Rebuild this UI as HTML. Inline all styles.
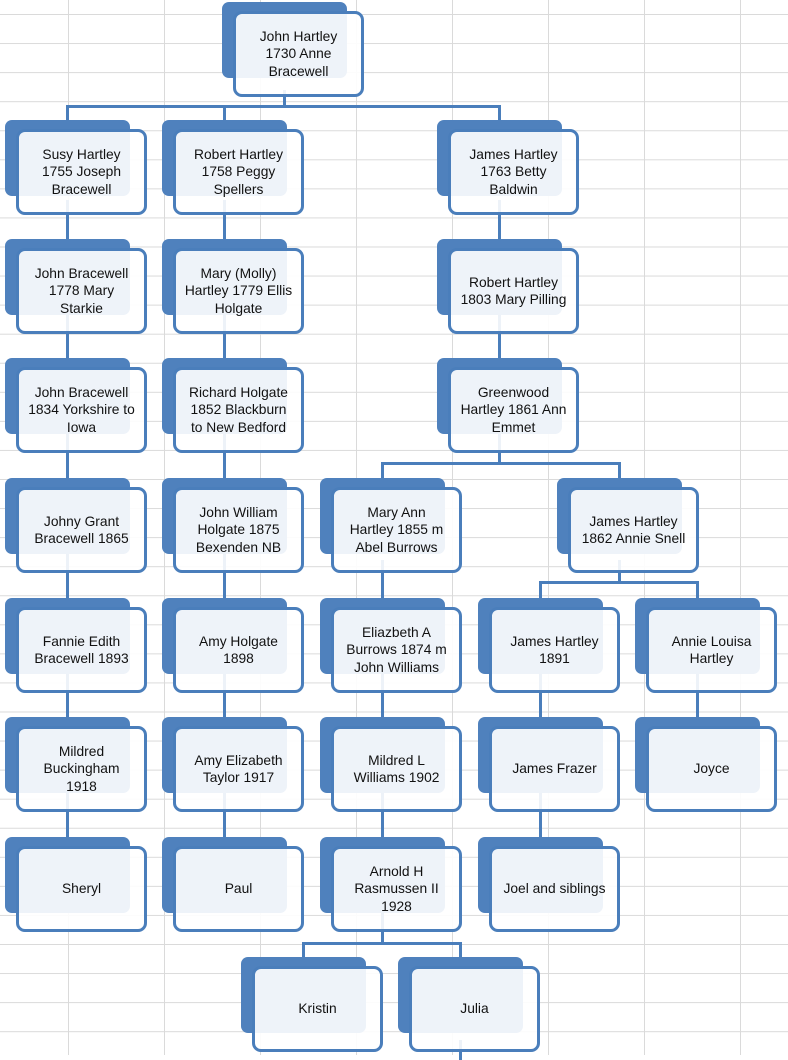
<!DOCTYPE html>
<html><head><meta charset="utf-8"><style>
body{margin:0;width:788px;height:1055px;position:relative;overflow:hidden;background:#fff;font-family:"Liberation Sans",sans-serif;}
.g{position:absolute;inset:0;background-image:linear-gradient(to right,#dadada 1px,transparent 1px),linear-gradient(to bottom,#dadada 1px,transparent 1px);background-size:96px 29.07px;background-position:68px 14px;}
.n{position:absolute;width:145px;height:95px;}
.b{position:absolute;left:0;top:0;width:125px;height:76px;background:#4f81bd;border-radius:7px;}
.f{position:absolute;left:11px;top:9px;width:125px;height:80px;border:3px solid #4a7ebb;border-radius:9px;background:rgba(255,255,255,0.9);}
.t{position:absolute;left:14px;top:20px;width:125px;height:64px;display:flex;align-items:center;justify-content:center;text-align:center;font-size:13.8px;line-height:17.5px;color:#111;}
.l{position:absolute;background:#4a7ebb;}
</style></head><body>
<div class="g"></div>
<div class="l" style="left:283px;top:90px;width:3px;height:18px"></div>
<div class="l" style="left:66px;top:105px;width:435px;height:3px"></div>
<div class="l" style="left:66px;top:105px;width:3px;height:16px"></div>
<div class="l" style="left:223px;top:105px;width:3px;height:16px"></div>
<div class="l" style="left:498px;top:105px;width:3px;height:16px"></div>
<div class="l" style="left:66px;top:200px;width:3px;height:640px"></div>
<div class="l" style="left:223px;top:200px;width:3px;height:640px"></div>
<div class="l" style="left:498px;top:200px;width:3px;height:265px"></div>
<div class="l" style="left:381px;top:462px;width:240px;height:3px"></div>
<div class="l" style="left:381px;top:462px;width:3px;height:20px"></div>
<div class="l" style="left:618px;top:462px;width:3px;height:20px"></div>
<div class="l" style="left:381px;top:560px;width:3px;height:385px"></div>
<div class="l" style="left:618px;top:560px;width:3px;height:24px"></div>
<div class="l" style="left:539px;top:581px;width:160px;height:3px"></div>
<div class="l" style="left:539px;top:581px;width:3px;height:240px"></div>
<div class="l" style="left:539px;top:680px;width:3px;height:160px"></div>
<div class="l" style="left:696px;top:581px;width:3px;height:140px"></div>
<div class="l" style="left:302px;top:942px;width:160px;height:3px"></div>
<div class="l" style="left:302px;top:942px;width:3px;height:18px"></div>
<div class="l" style="left:459px;top:942px;width:3px;height:18px"></div>
<div class="l" style="left:459px;top:1040px;width:3px;height:20px"></div>

<div class="n" style="left:222px;top:2px"><div class="b"></div><div class="f"></div><div class="t">John Hartley<br>1730 Anne<br>Bracewell</div></div>

<div class="n" style="left:5px;top:120px"><div class="b"></div><div class="f"></div><div class="t">Susy Hartley<br>1755 Joseph<br>Bracewell</div></div>
<div class="n" style="left:162px;top:120px"><div class="b"></div><div class="f"></div><div class="t">Robert Hartley<br>1758 Peggy<br>Spellers</div></div>
<div class="n" style="left:437px;top:120px"><div class="b"></div><div class="f"></div><div class="t">James Hartley<br>1763 Betty<br>Baldwin</div></div>

<div class="n" style="left:5px;top:239px"><div class="b"></div><div class="f"></div><div class="t">John Bracewell<br>1778 Mary<br>Starkie</div></div>
<div class="n" style="left:162px;top:239px"><div class="b"></div><div class="f"></div><div class="t">Mary (Molly)<br>Hartley 1779 Ellis<br>Holgate</div></div>
<div class="n" style="left:437px;top:239px"><div class="b"></div><div class="f"></div><div class="t">Robert Hartley<br>1803 Mary Pilling</div></div>

<div class="n" style="left:5px;top:358px"><div class="b"></div><div class="f"></div><div class="t">John Bracewell<br>1834 Yorkshire to<br>Iowa</div></div>
<div class="n" style="left:162px;top:358px"><div class="b"></div><div class="f"></div><div class="t">Richard Holgate<br>1852 Blackburn<br>to New Bedford</div></div>
<div class="n" style="left:437px;top:358px"><div class="b"></div><div class="f"></div><div class="t">Greenwood<br>Hartley 1861 Ann<br>Emmet</div></div>

<div class="n" style="left:5px;top:478px"><div class="b"></div><div class="f"></div><div class="t">Johny Grant<br>Bracewell 1865</div></div>
<div class="n" style="left:162px;top:478px"><div class="b"></div><div class="f"></div><div class="t">John William<br>Holgate 1875<br>Bexenden NB</div></div>
<div class="n" style="left:320px;top:478px"><div class="b"></div><div class="f"></div><div class="t">Mary Ann<br>Hartley 1855 m<br>Abel Burrows</div></div>
<div class="n" style="left:557px;top:478px"><div class="b"></div><div class="f"></div><div class="t">James Hartley<br>1862 Annie Snell</div></div>

<div class="n" style="left:5px;top:598px"><div class="b"></div><div class="f"></div><div class="t">Fannie Edith<br>Bracewell 1893</div></div>
<div class="n" style="left:162px;top:598px"><div class="b"></div><div class="f"></div><div class="t">Amy Holgate<br>1898</div></div>
<div class="n" style="left:320px;top:598px"><div class="b"></div><div class="f"></div><div class="t">Eliazbeth A<br>Burrows 1874 m<br>John Williams</div></div>
<div class="n" style="left:478px;top:598px"><div class="b"></div><div class="f"></div><div class="t">James Hartley<br>1891</div></div>
<div class="n" style="left:635px;top:598px"><div class="b"></div><div class="f"></div><div class="t">Annie Louisa<br>Hartley</div></div>

<div class="n" style="left:5px;top:717px"><div class="b"></div><div class="f"></div><div class="t">Mildred<br>Buckingham<br>1918</div></div>
<div class="n" style="left:162px;top:717px"><div class="b"></div><div class="f"></div><div class="t">Amy Elizabeth<br>Taylor 1917</div></div>
<div class="n" style="left:320px;top:717px"><div class="b"></div><div class="f"></div><div class="t">Mildred L<br>Williams 1902</div></div>
<div class="n" style="left:478px;top:717px"><div class="b"></div><div class="f"></div><div class="t">James Frazer</div></div>
<div class="n" style="left:635px;top:717px"><div class="b"></div><div class="f"></div><div class="t">Joyce</div></div>

<div class="n" style="left:5px;top:837px"><div class="b"></div><div class="f"></div><div class="t">Sheryl</div></div>
<div class="n" style="left:162px;top:837px"><div class="b"></div><div class="f"></div><div class="t">Paul</div></div>
<div class="n" style="left:320px;top:837px"><div class="b"></div><div class="f"></div><div class="t">Arnold H<br>Rasmussen II<br>1928</div></div>
<div class="n" style="left:478px;top:837px"><div class="b"></div><div class="f"></div><div class="t">Joel and siblings</div></div>

<div class="n" style="left:241px;top:957px"><div class="b"></div><div class="f"></div><div class="t">Kristin</div></div>
<div class="n" style="left:398px;top:957px"><div class="b"></div><div class="f"></div><div class="t">Julia</div></div>
</body></html>
